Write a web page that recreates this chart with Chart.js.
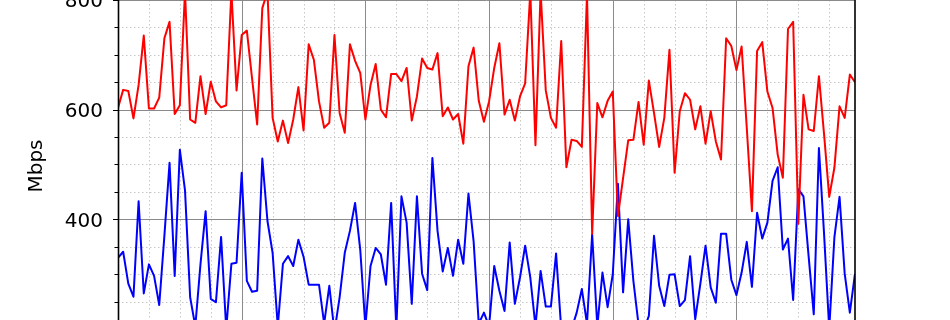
<!DOCTYPE html>
<html>
<head>
<meta charset="utf-8">
<script src="https://cdn.jsdelivr.net/npm/chart.js@4.4.1/dist/chart.umd.min.js"></script>
<style>
  html, body { margin: 0; padding: 0; background: #fff; }
  #wrap { width: 950px; height: 320px; position: relative; }
</style>
</head>
<body>
<div id="wrap"><canvas id="speedChart"></canvas></div>
<script>
// === data (one sample per step, 144 steps) ===
const upperSeries = [
  603, 636, 634, 584, 645, 735, 602, 602, 622, 730, 760, 592, 608, 815, 582, 576, 661, 592, 651, 615, 604, 608, 815, 635,
  736, 744, 658, 573, 785, 815, 585, 542, 580, 539, 582, 641, 562, 719, 691, 615, 567, 576, 736, 594, 558, 719, 689, 667,
  582, 645, 683, 600, 586, 665, 665, 652, 676, 580, 624, 693, 676, 673, 703, 588, 604, 582, 592, 538, 679, 713, 616, 578,
  615, 676, 721, 591, 618, 580, 624, 648, 815, 535, 815, 635, 585, 567, 725, 495, 545, 543, 532, 810, 374, 612, 586, 616,
  633, 406, 475, 544, 545, 614, 536, 653, 594, 532, 585, 709, 485, 597, 630, 618, 564, 606, 538, 597, 542, 509, 730, 716,
  672, 715, 567, 415, 707, 723, 633, 603, 518, 476, 747, 760, 392, 627, 564, 561, 661, 555, 441, 494, 606, 585, 664, 650
];
const lowerSeries = [
  330, 341, 283, 259, 433, 265, 318, 297, 244, 370, 503, 297, 527, 453, 258, 205, 318, 415, 255, 249, 368, 200, 319, 321,
  485, 288, 268, 270, 511, 397, 339, 205, 319, 333, 315, 363, 332, 281, 281, 281, 210, 279, 195, 258, 339, 379, 430, 345,
  205, 315, 348, 336, 281, 430, 200, 442, 394, 246, 442, 301, 271, 512, 379, 305, 348, 297, 363, 319, 447, 360, 210, 230,
  205, 315, 270, 233, 358, 246, 294, 352, 294, 205, 306, 241, 241, 338, 200, 190, 200, 230, 273, 210, 373, 205, 303, 240,
  300, 465, 267, 400, 288, 208, 198, 224, 370, 279, 242, 299, 300, 242, 253, 333, 218, 283, 352, 276, 248, 374, 374, 290,
  262, 303, 359, 277, 412, 365, 394, 470, 495, 345, 365, 253, 455, 442, 333, 227, 530, 373, 200, 367, 441, 301, 230, 301
];
const steps = upperSeries.map((_, i) => i);

const yLabelled = [800, 600, 400];   // ticks with text
const yMinorStep = 50;
const yMajorStep = 200;
const xMinorStep = 6;
const xMajorStep = 24;
const yTitle = "Mbps";

const FONT = '"DejaVu Sans", sans-serif';

// === gridlines, spines, ticks, labels ===
function crisp(p) { return Math.round(p) + 0.5; }

const axesDecor = {
  id: "axesDecor",
  beforeDatasetsDraw(chart) {
    const { ctx, chartArea: a, scales: { x, y } } = chart;
    ctx.save();
    ctx.lineWidth = 1;

    // minor grid (dotted)
    ctx.strokeStyle = "#c8c8c8";
    ctx.setLineDash([1.5, 2.5]);
    ctx.beginPath();
    for (let v = 0; v <= x.max; v += xMinorStep) {
      if (v % xMajorStep === 0) continue;
      const px = crisp(x.getPixelForValue(v));
      ctx.moveTo(px, a.top); ctx.lineTo(px, a.bottom);
    }
    for (let v = 200; v <= 800; v += yMinorStep) {
      if (v % yMajorStep === 0) continue;
      const py = crisp(y.getPixelForValue(v));
      ctx.moveTo(a.left, py); ctx.lineTo(a.right, py);
    }
    ctx.stroke();

    // major grid (solid)
    ctx.setLineDash([]);
    ctx.strokeStyle = "#8a8a8a";
    ctx.beginPath();
    for (let v = xMajorStep; v < x.max; v += xMajorStep) {
      const px = crisp(x.getPixelForValue(v));
      ctx.moveTo(px, a.top); ctx.lineTo(px, a.bottom);
    }
    for (let v = 200; v <= 800; v += yMajorStep) {
      const py = Math.max(0.5, crisp(y.getPixelForValue(v)));
      ctx.moveTo(a.left, py); ctx.lineTo(a.right, py);
    }
    ctx.stroke();
    ctx.restore();
  },
  afterDatasetsDraw(chart) {
    const { ctx, chartArea: a, scales: { y } } = chart;
    ctx.save();

    // spines
    ctx.strokeStyle = "#000";
    ctx.lineWidth = 1.6;
    ctx.beginPath();
    ctx.moveTo(a.left + 0.5, 0); ctx.lineTo(a.left + 0.5, a.bottom);
    ctx.moveTo(a.right, 0); ctx.lineTo(a.right, a.bottom);
    ctx.stroke();

    // y ticks
    ctx.lineWidth = 1.2;
    ctx.beginPath();
    for (let v = 200; v <= 800; v += yMinorStep) {
      const py = crisp(y.getPixelForValue(v));
      const len = v % yMajorStep === 0 ? 5 : 3.5;
      ctx.moveTo(a.left, py); ctx.lineTo(a.left - len, py);
    }
    ctx.stroke();

    // tick labels
    ctx.fillStyle = "#000";
    ctx.font = "20px " + FONT;
    ctx.textAlign = "right";
    ctx.textBaseline = "alphabetic";
    yLabelled.forEach(v => {
      const py = y.getPixelForValue(v);
      ctx.fillText(String(v), 103, py + 7.3);
    });

    // axis title
    ctx.translate(42, 166);
    ctx.rotate(-Math.PI / 2);
    ctx.textAlign = "center";
    ctx.fillText(yTitle, 0, 0);
    ctx.restore();
  }
};

const chart = new Chart(document.getElementById("speedChart"), {
  type: "line",
  data: {
    labels: steps,
    datasets: [
      {
        label: "upper",
        data: upperSeries,
        borderColor: "#ff0000",
        borderWidth: 2,
        borderJoinStyle: "round",
        pointRadius: 0,
        tension: 0,
        fill: false
      },
      {
        label: "lower",
        data: lowerSeries,
        borderColor: "#0000ff",
        borderWidth: 2,
        borderJoinStyle: "round",
        pointRadius: 0,
        tension: 0,
        fill: false
      }
    ]
  },
  options: {
    responsive: true,
    maintainAspectRatio: false,
    animation: false,
    events: [],
    layout: { padding: { left: 118, right: 95, top: 0, bottom: 0 } },
    plugins: { legend: { display: false }, tooltip: { enabled: false } },
    scales: {
      x: { type: "linear", display: false, min: 0, max: steps.length - 1 },
      y: { type: "linear", display: false, min: 216.6, max: 799.8 }
    }
  },
  plugins: [axesDecor]
});
</script>
</body>
</html>
